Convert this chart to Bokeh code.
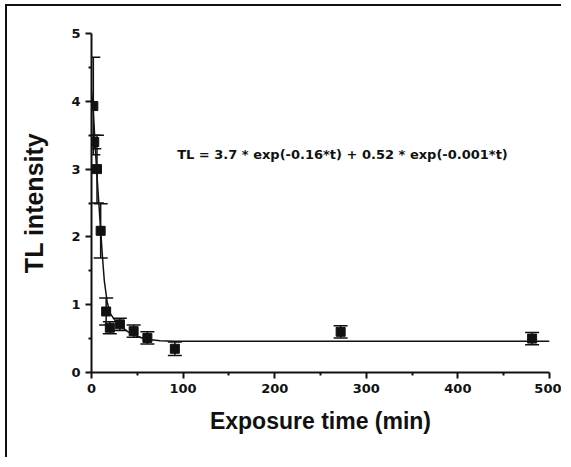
import numpy as np
from bokeh.plotting import figure
from bokeh.models import FixedTicker, Whisker, TeeHead, ColumnDataSource, Label, InlineStyleSheet
from bokeh.embed import file_html
from bokeh.resources import INLINE

# Measured points
t_min = [2, 3, 6, 10, 16, 20, 31, 46, 61, 91, 272, 481]
tl = [3.93, 3.40, 3.00, 2.09, 0.90, 0.66, 0.71, 0.61, 0.51, 0.35, 0.60, 0.50]
tl_err = [0.72, 0.10, 0.50, 0.40, 0.20, 0.09, 0.09, 0.09, 0.09, 0.10, 0.09, 0.09]

# Fitted curve
fit_t = [0, 2, 4, 6, 8, 10, 12, 14, 17, 20, 25, 30, 40, 50, 60, 75, 90, 100, 200, 300, 400, 500]
fit_tl = [4.15, 3.85, 3.35, 2.90, 2.50, 2.10, 1.70, 1.35, 1.05, 0.88, 0.78, 0.70, 0.60, 0.53, 0.49, 0.47, 0.46, 0.46, 0.46, 0.46, 0.46, 0.46]

x_ticks = [0, 100, 200, 300, 400, 500]
x_minor = [50, 150, 250, 350, 450]
y_ticks = [0, 1, 2, 3, 4, 5]
y_minor = [0.5, 1.5, 2.5, 3.5, 4.5]

equation = "TL = 3.7 * exp(-0.16*t) + 0.52 * exp(-0.001*t)"
x_title = "Exposure time (min)"
y_title = "TL intensity"

frame_css = InlineStyleSheet(css=":host { margin-left: 5px; margin-top: 4px; "
                                 "border-left: 2px solid #111; border-top: 2px solid #111; "
                                 "border-right: none; border-bottom: none; }")

p = figure(width=556, height=453, x_range=(0, 500), y_range=(0, 5),
           output_backend="svg", toolbar_location=None,
           min_border_left=84, min_border_right=14, min_border_top=27, min_border_bottom=87,
           stylesheets=[frame_css])
p.background_fill_color = "white"
p.border_fill_color = "white"
p.outline_line_color = None
p.xgrid.visible = False
p.ygrid.visible = False

for ax in (p.xaxis[0], p.yaxis[0]):
    ax.axis_line_width = 2
    ax.axis_line_color = "#111"
    ax.major_tick_line_width = 2
    ax.major_tick_line_color = "#111"
    ax.minor_tick_line_width = 2
    ax.minor_tick_line_color = "#111"
    ax.major_tick_in = 0
    ax.major_tick_out = 6
    ax.minor_tick_in = 0
    ax.minor_tick_out = 3
    ax.major_label_text_font = "DejaVu Sans"
    ax.major_label_text_font_style = "bold"
    ax.major_label_text_font_size = "13px"
    ax.major_label_text_color = "#111"
    ax.major_label_standoff = 5
    ax.axis_label_text_font = "Liberation Sans"
    ax.axis_label_text_font_style = "bold"
    ax.axis_label_text_color = "#111"

p.xaxis.ticker = FixedTicker(ticks=x_ticks, minor_ticks=x_minor)
p.yaxis.ticker = FixedTicker(ticks=y_ticks, minor_ticks=y_minor)
p.xaxis.axis_label = x_title
p.xaxis.axis_label_text_font_size = "23px"
p.xaxis.axis_label_standoff = 12
p.yaxis.axis_label = y_title
p.yaxis.axis_label_text_font_size = "25px"
p.yaxis.axis_label_standoff = 20

# curve
p.line(fit_t, fit_tl, line_color="#111", line_width=1.5)

# error bars
src = ColumnDataSource(dict(
    t=t_min, v=tl,
    lo=[v - e for v, e in zip(tl, tl_err)],
    hi=[v + e for v, e in zip(tl, tl_err)],
))
wh = Whisker(source=src, base="t", upper="hi", lower="lo",
             line_color="#111", line_width=1.5,
             upper_head=TeeHead(size=14, line_color="#111", line_width=1.5),
             lower_head=TeeHead(size=14, line_color="#111", line_width=1.5))
p.add_layout(wh)

p.scatter("t", "v", source=src, marker="square", size=9, fill_color="#111", line_color="#111")

p.add_layout(Label(x=274, y=3.215, text=equation, text_font="DejaVu Sans",
                   text_font_style="bold", text_font_size="13px", text_color="#111",
                   text_align="center", text_baseline="middle"))

open("out.html", "w").write(file_html(p, INLINE))
